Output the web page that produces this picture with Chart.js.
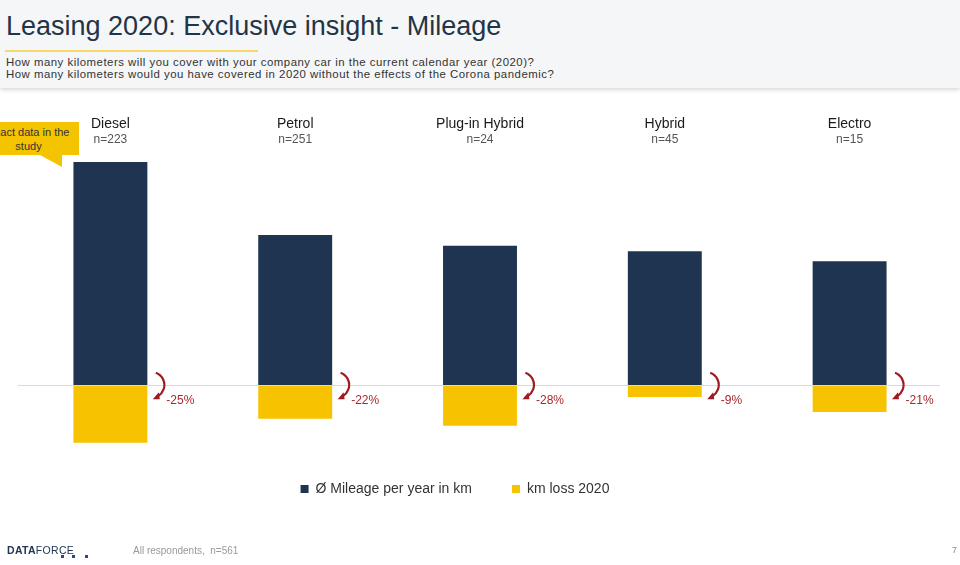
<!DOCTYPE html>
<html>
<head>
<meta charset="utf-8">
<script src="https://cdn.jsdelivr.net/npm/chart.js@4/dist/chart.umd.min.js"></script>
<style>
	body { margin:0; width:960px; height:565px; overflow:hidden; background:#fff; font-family:"Liberation Sans", Arial, sans-serif; position:relative; }
	#header { position:absolute; left:0; top:0; width:960px; height:88px; background:#f5f6f7; box-shadow:0 2px 4px rgba(0,0,0,0.15); }
	#title { position:absolute; left:6px; top:11px; font-size:27px; color:#243447; white-space:nowrap; }
	#rule { position:absolute; left:5px; top:50px; width:253px; height:2px; background:#f8d86a; }
	#subtitle { position:absolute; left:6px; top:56px; font-size:11.4px; letter-spacing:0.5px; line-height:12px; color:#333; white-space:nowrap; }
	#chart { position:absolute; left:-32px; top:95px; }
	#callout { position:absolute; left:-22px; top:122px; width:101px; height:33px; background:#f5c400; font-size:11px; line-height:14px; color:#333; text-align:center; padding-top:3px; box-sizing:border-box; z-index:2; }
	#tail { position:absolute; left:40px; top:155px; width:0; height:0; border-top:12px solid #f5c400; border-left:22px solid transparent; z-index:2; }
	#logo { position:absolute; left:7px; top:544px; font-size:10.5px; color:#203654; letter-spacing:0.3px; }
	#logo b { font-weight:bold; }
	.dot { position:absolute; width:3px; height:3px; background:#2a4a8a; top:555px; }
	#note { position:absolute; left:133px; top:545px; font-size:10px; color:#999; }
	#page { position:absolute; left:952px; top:545px; font-size:9px; color:#888; }
</style>
</head>
<body>
<div id="header">
	<div id="title">Leasing 2020: Exclusive insight - Mileage</div>
	<div id="rule"></div>
	<div id="subtitle">How many kilometers will you cover with your company car in the current calendar year (2020)?<br>How many kilometers would you have covered in 2020 without the effects of the Corona pandemic?</div>
</div>
<canvas id="chart" width="974" height="470"></canvas>
<div id="callout">Exact data in the<br>study</div>
<div id="tail"></div>
<div id="logo"><b>DATA</b>FORCE</div>
<div class="dot" style="left:61px"></div>
<div class="dot" style="left:72px"></div>
<div class="dot" style="left:85px"></div>
<div id="note">All respondents,&nbsp; n=561</div>
<div id="page">7</div>
<script>
var categories = ['Diesel', 'Petrol', 'Plug-in Hybrid', 'Hybrid', 'Electro'];
var sampleSizes = ['n=223', 'n=251', 'n=24', 'n=45', 'n=15'];
var mileage = [29000, 19500, 18100, 17400, 16100];
var kmLoss = [-7500, -4400, -5300, -1560, -3500];
var lossLabels = ['-25%', '-22%', '-28%', '-9%', '-21%'];

var NAVY = '#1f3451';
var YELLOW = '#f7c300';
var FONT = '"Liberation Sans", Arial, sans-serif';

var decorations = {
	id:'decorations',
	afterDatasetsDraw:function(chart) {
		var ctx = chart.ctx;
		var x = chart.scales.x;
		var y = chart.scales.y;
		var zero = y.getPixelForValue(0);
		var area = chart.chartArea;

		ctx.save();
		// zero line
		ctx.strokeStyle = '#d9d9d9';
		ctx.lineWidth = 1;
		ctx.beginPath();
		ctx.moveTo(area.left, Math.round(zero) + 0.5);
		ctx.lineTo(area.right - 2, Math.round(zero) + 0.5);
		ctx.stroke();

		// category headers (canvas starts 95px down the page)
		ctx.textAlign = 'center';
		ctx.textBaseline = 'middle';
		categories.forEach(function(c, i) {
			var px = x.getPixelForValue(i);
			ctx.fillStyle = '#1a1a1a';
			ctx.font = '14px ' + FONT;
			ctx.fillText(c, px, 29);
			ctx.fillStyle = '#555';
			ctx.font = '12px ' + FONT;
			ctx.fillText(sampleSizes[i], px, 45);
		});

		// curved arrows and loss labels
		var bars = chart.getDatasetMeta(0).data;
		bars.forEach(function(bar, i) {
			var right = bar.x + bar.width / 2;
			var cx = right + 4;
			var r = 13;
			var a = 70 * Math.PI / 180;
			ctx.strokeStyle = '#9e1b22';
			ctx.fillStyle = '#9e1b22';
			ctx.lineWidth = 2.2;
			ctx.beginPath();
			ctx.arc(cx, zero, r, -a, a * 0.85, false);
			ctx.stroke();
			// arrow head
			var ex = cx + r * Math.cos(a);
			var ey = zero + r * Math.sin(a);
			ctx.beginPath();
			ctx.moveTo(ex - 3, ey + 2);
			ctx.lineTo(ex + 3, ey - 5);
			ctx.lineTo(ex + 4, ey + 2);
			ctx.closePath();
			ctx.fill();

			ctx.fillStyle = '#a8282e';
			ctx.font = '12px ' + FONT;
			ctx.textAlign = 'left';
			ctx.fillText(lossLabels[i], right + 19, zero + 16);
		});
		ctx.restore();
	}
};

new Chart(document.getElementById('chart').getContext('2d'), {
	type:'bar',
	data:{
		labels:categories,
		datasets:[
			{ label:'Ø Mileage per year in km', data:mileage, backgroundColor:NAVY, clip:false },
			{ label:'km loss 2020', data:kmLoss, backgroundColor:YELLOW, clip:false }
		]
	},
	options:{
		responsive:false,
		animation:false,
		layout:{ padding:{ top:45, bottom:59, left:0, right:0 } },
		datasets:{ bar:{ barPercentage:0.4, categoryPercentage:1 } },
		scales:{
			x:{ stacked:true, display:false },
			y:{
				stacked:true,
				min:-7410, max:31850,
				grid:{ display:false },
				border:{ display:false },
				ticks:{ display:false },
				afterFit:function(scale) { scale.width = 50; }
			}
		},
		plugins:{
			legend:{
				position:'bottom',
				labels:{ boxWidth:8, boxHeight:8, padding:40, color:'#333', font:{ family:FONT, size:14 } }
			},
			tooltip:{ enabled:false }
		}
	},
	plugins:[decorations]
});
</script>
</body>
</html>
